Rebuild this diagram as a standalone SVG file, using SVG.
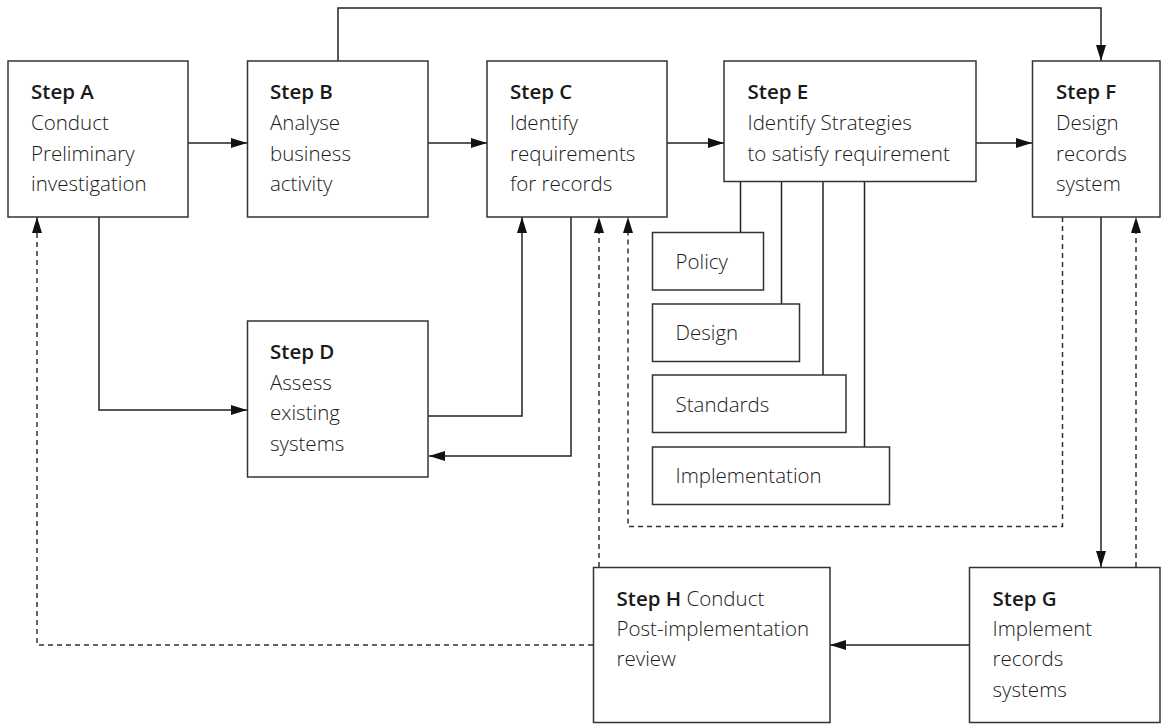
<svg xmlns="http://www.w3.org/2000/svg" width="1168" height="724" viewBox="0 0 1168 724">
<style>
.box{fill:#fff;stroke:#333;stroke-width:1.5}
.t{font-family:"Open Sans","Noto Sans","Liberation Sans",sans-serif;font-size:20.5px;font-weight:300;fill:#1a1a1a}
.b{font-weight:600}
.ln{fill:none;stroke:#222;stroke-width:1.5}
.ds{fill:none;stroke:#333;stroke-width:1.5;stroke-dasharray:5 4}
</style>
<defs>
<marker id="ah" viewBox="0 0 16 10" refX="16" refY="5" markerWidth="16" markerHeight="10" markerUnits="userSpaceOnUse" orient="auto">
<path d="M0,0 L16,5 L0,10 Z" fill="#111"/>
</marker>
</defs>
<g id="connectors">
<path class="ln" d="M188,143 H247" marker-end="url(#ah)"/>
<path class="ln" d="M428,143 H487" marker-end="url(#ah)"/>
<path class="ln" d="M667,143 H724" marker-end="url(#ah)"/>
<path class="ln" d="M976,143 H1032" marker-end="url(#ah)"/>
<path class="ln" d="M338,61 V8 H1101 V61" marker-end="url(#ah)"/>
<path class="ln" d="M99,217 V410 H247" marker-end="url(#ah)"/>
<path class="ln" d="M428,416 H522 V217" marker-end="url(#ah)"/>
<path class="ln" d="M571,217 V456 H429" marker-end="url(#ah)"/>
<path class="ln" d="M740.5,181 V232"/>
<path class="ln" d="M781.5,181 V304"/>
<path class="ln" d="M823,181 V375"/>
<path class="ln" d="M864.5,181 V447"/>
<path class="ln" d="M1101,217 V567" marker-end="url(#ah)"/>
<path class="ln" d="M969,645 H830" marker-end="url(#ah)"/>
<path class="ds" d="M599,567 V217" marker-end="url(#ah)"/>
<path class="ds" d="M1062.5,217 V526.5 H628 V217" marker-end="url(#ah)"/>
<path class="ds" d="M1136,567 V217" marker-end="url(#ah)"/>
<path class="ds" d="M593,645 H37 V217" marker-end="url(#ah)"/>
</g>
<g id="stepA">
<rect class="box" x="8" y="61" width="180" height="156"/>
<text class="t" x="31" y="99"><tspan class="b">Step A</tspan><tspan x="31" y="130">Conduct</tspan><tspan x="31" y="160.5">Preliminary</tspan><tspan x="31" y="191">investigation</tspan></text>
</g>
<g id="stepB">
<rect class="box" x="247.5" y="61" width="180.5" height="156"/>
<text class="t" x="270" y="99"><tspan class="b">Step B</tspan><tspan x="270" y="130">Analyse</tspan><tspan x="270" y="160.5">business</tspan><tspan x="270" y="191">activity</tspan></text>
</g>
<g id="stepC">
<rect class="box" x="487" y="61" width="180" height="156"/>
<text class="t" x="510" y="99"><tspan class="b">Step C</tspan><tspan x="510" y="130">Identify</tspan><tspan x="510" y="160.5">requirements</tspan><tspan x="510" y="191">for records</tspan></text>
</g>
<g id="stepE">
<rect class="box" x="724" y="61" width="252" height="120.5"/>
<text class="t" x="747.5" y="99"><tspan class="b">Step E</tspan><tspan x="747.5" y="130">Identify Strategies</tspan><tspan x="747.5" y="160.5">to satisfy requirement</tspan></text>
</g>
<g id="stepF">
<rect class="box" x="1032.5" y="61" width="127.5" height="156"/>
<text class="t" x="1056" y="99"><tspan class="b">Step F</tspan><tspan x="1056" y="130">Design</tspan><tspan x="1056" y="160.5">records</tspan><tspan x="1056" y="191">system</tspan></text>
</g>
<g id="stepD">
<rect class="box" x="247.5" y="321" width="180.5" height="156"/>
<text class="t" x="270" y="359"><tspan class="b">Step D</tspan><tspan x="270" y="389.5">Assess</tspan><tspan x="270" y="420">existing</tspan><tspan x="270" y="450.5">systems</tspan></text>
</g>
<g id="policy">
<rect class="box" x="652.5" y="232.5" width="111" height="57.5"/>
<text class="t" x="675.5" y="269">Policy</text>
</g>
<g id="design">
<rect class="box" x="652.5" y="304" width="147" height="57.5"/>
<text class="t" x="675.5" y="340">Design</text>
</g>
<g id="standards">
<rect class="box" x="652.5" y="375" width="193.5" height="57.5"/>
<text class="t" x="675.5" y="411.5">Standards</text>
</g>
<g id="implementation">
<rect class="box" x="652.5" y="447" width="237" height="57.5"/>
<text class="t" x="675.5" y="482.5">Implementation</text>
</g>
<g id="stepH">
<rect class="box" x="593.5" y="567.5" width="236.5" height="155"/>
<text class="t" x="616.5" y="605.5"><tspan class="b">Step H</tspan> Conduct<tspan x="616.5" y="636">Post-implementation</tspan><tspan x="616.5" y="666">review</tspan></text>
</g>
<g id="stepG">
<rect class="box" x="969.5" y="567.5" width="190.5" height="155"/>
<text class="t" x="992.5" y="605.5"><tspan class="b">Step G</tspan><tspan x="992.5" y="636">Implement</tspan><tspan x="992.5" y="666">records</tspan><tspan x="992.5" y="696.5">systems</tspan></text>
</g>
</svg>
